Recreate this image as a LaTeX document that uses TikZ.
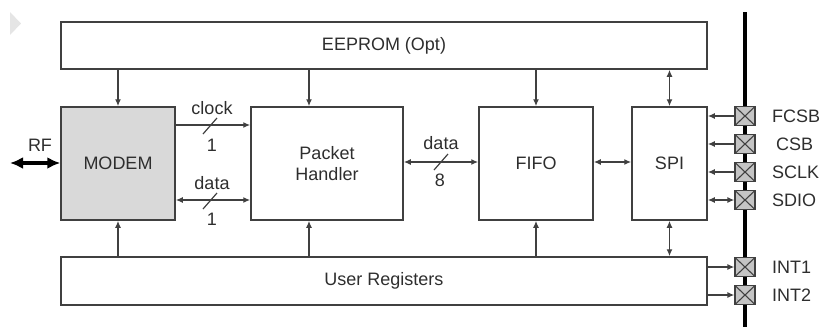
\documentclass[tikz,border=0pt]{standalone}
\usepackage{fontspec}
\setmainfont{Liberation Sans}
\usetikzlibrary{arrows.meta}
\definecolor{ln}{HTML}{404040}
\definecolor{tx}{HTML}{2E2E2E}
\definecolor{modemfill}{HTML}{D9D9D9}
\definecolor{padfill}{HTML}{C4C4C4}
\tikzset{
  blk/.style={draw=ln, line width=1.5pt, rectangle, inner sep=0pt, text=tx, font=\fontsize{18}{21.5}\selectfont, align=center},
  arr/.style={draw=ln, line width=1.3pt, -{Latex[length=7pt,width=6pt]}},
  darr/.style={draw=ln, line width=1.3pt, {Latex[length=7pt,width=6pt]}-{Latex[length=7pt,width=6pt]}},
  lbl/.style={text=tx, font=\fontsize{18}{21.5}\selectfont, inner sep=0pt},
  slash/.style={draw=ln, line width=1.2pt},
  pad/.style={draw=ln, line width=1.3pt, fill=padfill, minimum width=20pt, minimum height=19pt, inner sep=0pt,
    path picture={\draw[ln, line width=1.1pt] (path picture bounding box.south west) -- (path picture bounding box.north east)
                  (path picture bounding box.north west) -- (path picture bounding box.south east);}}
}
\begin{document}
\begin{tikzpicture}[x=1pt,y=-1pt]
\useasboundingbox (0,0) rectangle (823,327);
% faint mark at top left
\fill[black!10] (10,12) -- (21,23.5) -- (10,35) -- cycle;

% blocks
\node[blk, minimum width=646pt, minimum height=47pt] (eeprom) at (384,45.5) {EEPROM (Opt)};
\node[blk, minimum width=646pt, minimum height=48pt] (ureg) at (384,281) {User Registers};
\node[blk, fill=modemfill, minimum width=114pt, minimum height=113pt] (modem) at (118,163.5) {MODEM};
\node[blk, minimum width=152pt, minimum height=113pt] (ph) at (327,163.5) {Packet\\Handler};
\node[blk, minimum width=114pt, minimum height=113pt] (fifo) at (536,163.5) {FIFO};
\node[blk, minimum width=75pt, minimum height=113pt] (spi) at (669.5,163.5) {SPI};

% bus
\coordinate (bustop) at (745,12);
\coordinate (busbot) at (745,327);
\draw[black, line width=3.2pt] (bustop) -- (busbot);

% pads
\node[pad] (p1) at (745,116) {};
\node[pad] (p2) at (745,144) {};
\node[pad] (p3) at (745,172) {};
\node[pad] (p4) at (745,200) {};
\node[pad] (p5) at (745,267) {};
\node[pad] (p6) at (745,295) {};
\node[lbl, anchor=west] at (772,116) {FCSB};
\node[lbl, anchor=west] at (776,144) {CSB};
\node[lbl, anchor=west] at (772,172) {SCLK};
\node[lbl, anchor=west] at (772,200) {SDIO};
\node[lbl, anchor=west] at (772,267) {INT1};
\node[lbl, anchor=west] at (772,295) {INT2};

% pad connections
\draw[arr] (p1.west) -- (p1.west -| spi.east);
\draw[arr] (p2.west) -- (p2.west -| spi.east);
\draw[arr] (p3.west) -- (p3.west -| spi.east);
\draw[darr] (p4.west -| spi.east) -- (p4.west);
\draw[arr] (p5.west -| ureg.east) -- (p5.west);
\draw[arr] (p6.west -| ureg.east) -- (p6.west);

% EEPROM connections
\draw[arr] (modem.north |- eeprom.south) -- (modem.north);
\draw[arr] ([xshift=-18pt]ph.north |- eeprom.south) -- ([xshift=-18pt]ph.north);
\draw[arr] (fifo.north |- eeprom.south) -- (fifo.north);
\draw[darr] (spi.north |- eeprom.south) -- (spi.north);

% User register connections
\draw[arr] (modem.south |- ureg.north) -- (modem.south);
\draw[arr] ([xshift=-18pt]ph.south |- ureg.north) -- ([xshift=-18pt]ph.south);
\draw[arr] (fifo.south |- ureg.north) -- (fifo.south);
\draw[darr] (spi.south |- ureg.north) -- (spi.south);

% modem <-> packet handler
\coordinate (ck1) at ([yshift=38.5pt]modem.east);
\coordinate (dt1) at ([yshift=-36.5pt]modem.east);
\draw[arr] (ck1) -- (ck1 -| ph.west);
\draw[darr] (dt1) -- (dt1 -| ph.west);
\draw[slash] (203,134) -- (217,118);
\draw[slash] (203,209) -- (217,193);
\node[lbl] at (212,108) {clock};
\node[lbl] at (212,145) {1};
\node[lbl] at (212,183) {data};
\node[lbl] at (212,219) {1};

% packet handler <-> fifo
\coordinate (d8) at ([yshift=1.5pt]ph.east);
\draw[darr] (d8) -- (d8 -| fifo.west);
\draw[slash] (434,170) -- (448,154);
\node[lbl] at (441,143) {data};
\node[lbl] at (440,180) {8};

% fifo <-> spi
\draw[darr] ([yshift=1.5pt]fifo.east) -- ([yshift=1.5pt]fifo.east -| spi.west);

% RF
\coordinate (rf) at (10,163);
\draw[draw=black, line width=3.2pt, {Latex[length=13pt,width=12pt]}-{Latex[length=13pt,width=12pt]}] (rf) -- (modem.west |- rf);
\node[lbl] at (40,145) {RF};
\end{tikzpicture}
\end{document}
